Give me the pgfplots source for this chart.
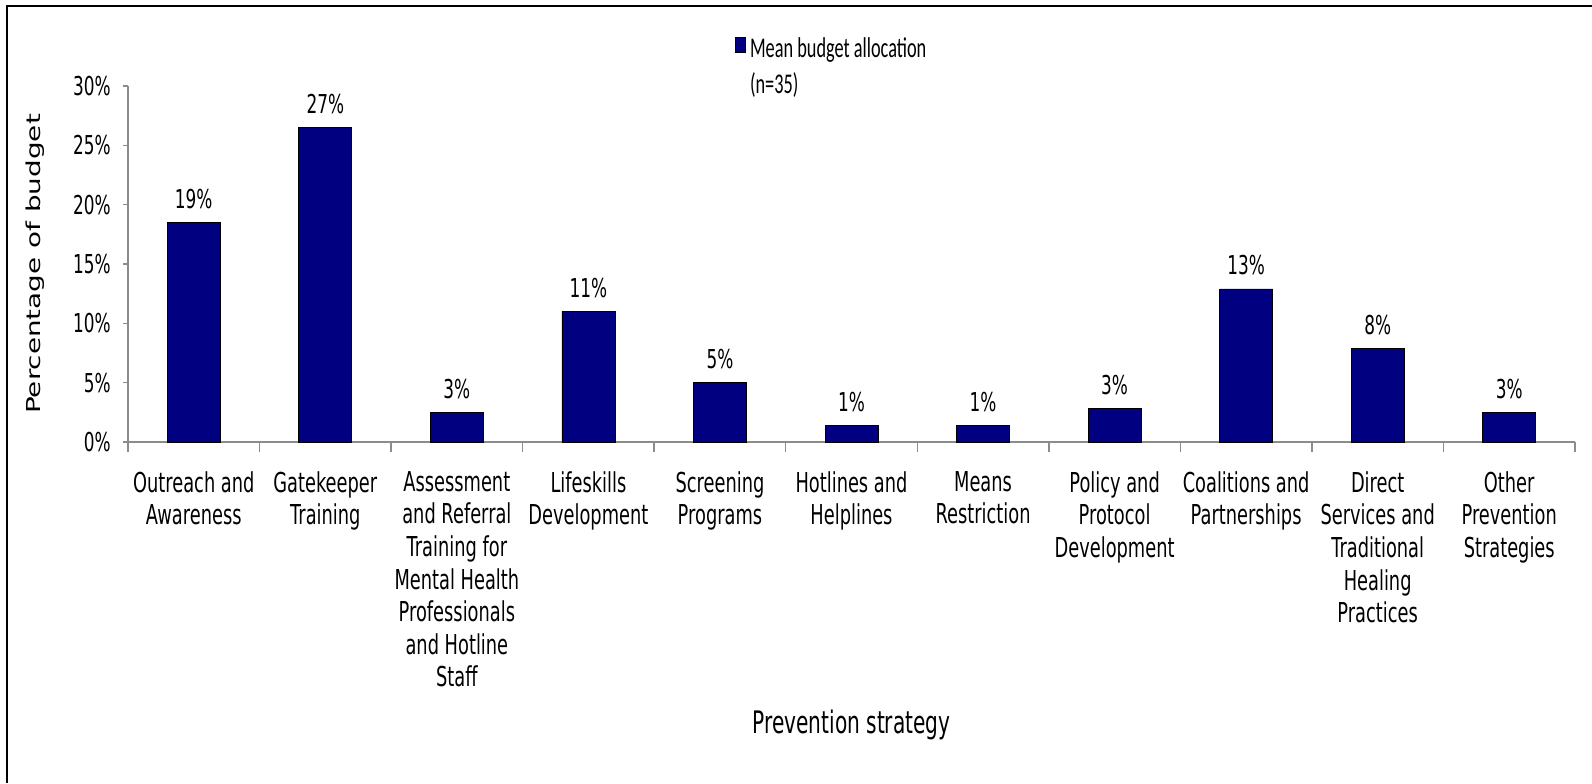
\documentclass[border=0pt]{standalone}
\usepackage{pgfplots}
\pgfplotsset{compat=1.18}
\usepackage{pgfplotstable}
\usepackage{fontspec}
\setmainfont{DejaVu Sans}
\newfontfamily\cfont[FakeStretch=0.65]{DejaVu Sans}
\newfontfamily\lfont[FakeStretch=0.64]{Carlito}
\newfontfamily\yfont[FakeStretch=1.45]{DejaVu Sans}
\definecolor{navy}{HTML}{000080}
\definecolor{axgray}{HTML}{8C8C8C}

\pgfplotstableread{
x y lab
0 18.5 19
1 26.5 27
2 2.5 3
3 11.0 11
4 5.0 5
5 1.4 1
6 1.4 1
7 2.8 3
8 12.9 13
9 7.9 8
10 2.5 3
}\budget

\begin{document}
\begin{tikzpicture}
\path[use as bounding box] (0,0) rectangle (796pt,391.5pt);
\draw[line width=1pt] (3.25pt,0) -- (3.25pt,388.5pt) -- (796pt,388.5pt);
\begin{axis}[
  at={(64pt,170.5pt)}, anchor=south west,
  scale only axis,
  width=723.5pt, height=178pt,
  xmin=-0.5, xmax=10.5, ymin=0, ymax=30,
  axis lines*=left,
  axis line style={axgray, line width=0.7pt},
  tick align=outside,
  major tick length=2.5pt,
  minor tick length=5pt,
  xtick={0,...,10},
  minor xtick={-0.5,0.5,...,10.5},
  major x tick style={draw=none},
  minor x tick style={axgray, line width=0.7pt},
  ytick={0,5,...,30},
  y tick style={axgray, line width=0.7pt},
  yticklabels={0\%,5\%,10\%,15\%,20\%,25\%,30\%},
  yticklabel style={font=\cfont\fontsize{13}{15}\selectfont, anchor=east, inner sep=0pt, xshift=-6pt},
  xticklabels={
    {Outreach and\\Awareness},
    {Gatekeeper\\Training},
    {Assessment\\and Referral\\Training for\\Mental Health\\Professionals\\and Hotline\\Staff},
    {Lifeskills\\Development},
    {Screening\\Programs},
    {Hotlines and\\Helplines},
    {Means\\Restriction},
    {Policy and\\Protocol\\Development},
    {Coalitions and\\Partnerships},
    {Direct\\Services and\\Traditional\\Healing\\Practices},
    {Other\\Prevention\\Strategies}},
  xticklabel style={font=\cfont\fontsize{13.7}{16.3}\selectfont, align=center, anchor=north, inner sep=0pt, yshift=-12pt},
  xlabel={Prevention strategy},
  xlabel style={font=\cfont\fontsize{15.5}{18}\selectfont, at={(axis description cs:0.5,-0.82)}, anchor=base},
  ylabel={Percentage of budget},
  ylabel style={font=\yfont\fontsize{9.6}{11}\selectfont, at={(axis description cs:-0.0643,0.5)}, anchor=center},
  legend style={at={(axis description cs:0.4195,1.149)}, anchor=north west, draw=none, fill=none, inner sep=0pt,
    font=\lfont\fontsize{14.3}{16}\selectfont, row sep=2pt},
  legend cell align=left,
  clip=false,
]
\addplot[ybar, bar width=26.5pt, fill=navy, draw=black, line width=0.4pt,
  point meta=explicit symbolic,
  nodes near coords={\pgfplotspointmeta\%},
  nodes near coords style={font=\cfont\fontsize{13}{15}\selectfont, anchor=base, inner sep=0pt, yshift=7pt, text=black},
  legend image code/.code={\draw[fill=navy,draw=black,line width=0.3pt] (0pt,-2pt) rectangle (5pt,5.5pt);}
] table[x=x, y=y, meta=lab] {\budget};
\addlegendentry{Mean budget allocation}
\addlegendimage{empty legend}
\addlegendentry{(n=35)}
\end{axis}
\end{tikzpicture}
\end{document}
